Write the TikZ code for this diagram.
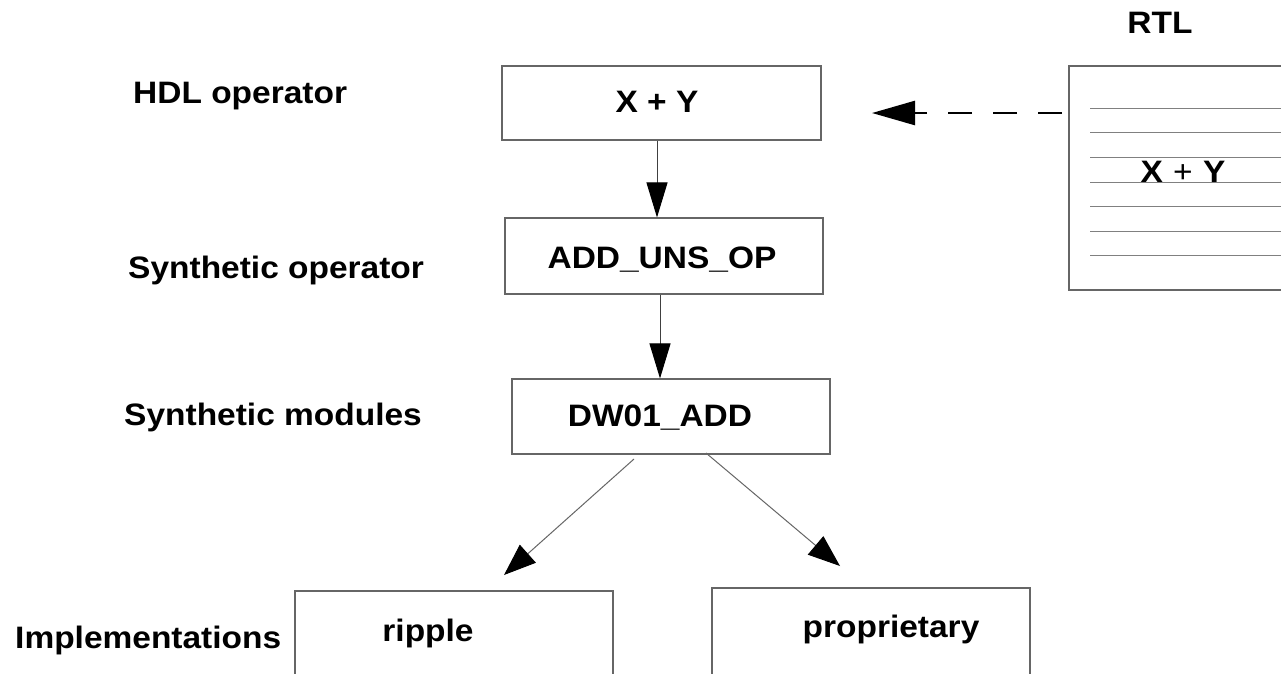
\documentclass[tikz,border=0pt]{standalone}
\usepackage{fontspec}
\setmainfont{Liberation Sans}[FakeStretch=1.08]
\usetikzlibrary{arrows.meta}
\tikzset{
  box/.style={draw=black!60, line width=1.1pt, rectangle, inner sep=0pt},
  lbl/.style={font=\fontsize{31}{37}\selectfont\bfseries, inner sep=0pt},
  conn/.style={draw=black!75, line width=1pt, -{Triangle[length=35pt,width=21pt,color=black]}},
  diag/.style={draw=black!60, line width=1pt, -{Triangle[length=32pt,width=24pt,color=black]}},
  dconn/.style={draw=black, line width=2.5pt, dash pattern=on 24pt off 21pt, -{Triangle[length=43pt,width=24pt]}},
  rule/.style={draw=black!50, line width=1pt}
}
\begin{document}
\begin{tikzpicture}[x=1pt,y=-1pt]
\clip (0,0) rectangle (1281,673);
\fill[white] (0,0) rectangle (1281,673);
% boxes
\node[box, minimum width=319pt, minimum height=74pt] (xy) at (661.5,103) {};
\node[box, minimum width=318pt, minimum height=76pt] (add) at (664,256) {};
\node[box, minimum width=318pt, minimum height=75pt] (dw) at (671,416.5) {};
\node[box, minimum width=318pt, minimum height=120pt] (rip) at (454,651) {};
\node[box, minimum width=318pt, minimum height=120pt] (prop) at (871,648) {};
\node[box, minimum width=240pt, minimum height=224pt] (rtl) at (1189,178) {};
% texts in boxes
\node[lbl, anchor=base] (xyt) at (657,112) {X + Y};
\node[lbl, anchor=base] (addt) at (662,268) {ADD\_UNS\_OP};
\node[lbl, anchor=base] (dwt) at (660,426) {DW01\_ADD};
\node[lbl, anchor=base] (ript) at (428,641) {ripple};
\node[lbl, anchor=base] (propt) at (891,637) {proprietary};
% RTL rules
\foreach \yy in {108,132.5,157,182,206.5,231,255.5}
  \draw[rule] (1090,\yy) -- (1290,\yy);
\node[lbl, anchor=base] (rtlt) at (1183,182) {X\,\,{\mdseries+}\,\,Y};
% side labels
\node[lbl, anchor=base] (rtllbl) at (1160,33) {RTL};
\node[lbl, anchor=base west] (hdl) at (133,103) {HDL operator};
\node[lbl, anchor=base west] (sop) at (128,278) {Synthetic operator};
\node[lbl, anchor=base west] (smod) at (124,425) {Synthetic modules};
\node[lbl, anchor=base west] (impl) at (15,648) {Implementations};
% connectors
\draw[conn] (xy.south -| 657,0) -- (add.north -| 657,0);
\draw[conn] (add.south -| 660,0) -- (dw.north -| 660,0);
\coordinate (dl) at (634,459);
\coordinate (dlend) at (504,575);
\coordinate (dr) at (706,453);
\coordinate (drend) at (840,566);
\draw[diag] (dl) -- (dlend);
\draw[diag] (dr) -- (drend);
\coordinate (dstart) at (1062,113);
\coordinate (dend) at (872,113);
\draw[dconn] (dstart) -- (dend);
\end{tikzpicture}
\end{document}
